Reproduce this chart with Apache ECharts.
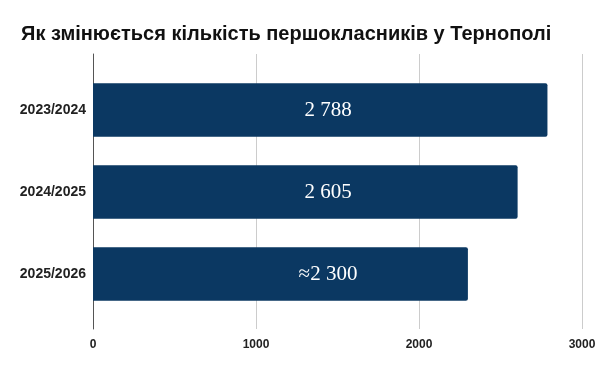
<!DOCTYPE html>
<html>
<head>
<meta charset="utf-8">
<script src="https://cdn.jsdelivr.net/npm/echarts@6/dist/echarts.min.js"></script>
<style>html,body{margin:0;padding:0;background:#fff;}#c{width:600px;height:371px;}</style>
</head>
<body>
<div id="c"></div>
<script>
var title = 'Як змінюється кількість першокласників у Тернополі';
var categories = ['2023/2024', '2024/2025', '2025/2026'];
var values = [2788, 2605, 2300];
var valueLabels = ['2 788', '2 605', '≈2 300'];
var axisMin = 0, axisMax = 3000, axisStep = 1000;

var chart = echarts.init(document.getElementById('c'), null, {renderer: 'canvas'});
chart.setOption({
  animation: false,
  backgroundColor: '#fff',
  title: {
    text: title, left: 16, top: 19,
    textStyle: {fontFamily: 'Liberation Sans, Arial, sans-serif', fontWeight: 'bold', fontSize: 20, color: '#111'}
  },
  grid: [
    {left: 93, right: 18, top: 54, bottom: 42},
    {left: 93, right: 18, top: 69, bottom: 56}
  ],
  xAxis: [
    {
      gridIndex: 0, type: 'value', min: axisMin, max: axisMax, interval: axisStep,
      axisLine: {show: false}, axisTick: {show: false},
      splitLine: {show: true, lineStyle: {color: '#cccccc', width: 1}},
      axisLabel: {
        margin: 10, formatter: function (v) { return String(v); },
        fontFamily: 'Liberation Sans, Arial, sans-serif', fontWeight: 'bold', fontSize: 12, color: '#222'
      }
    },
    {gridIndex: 1, type: 'value', min: axisMin, max: axisMax, show: false}
  ],
  yAxis: [
    {
      gridIndex: 0, type: 'value', min: 0, max: 1,
      axisLine: {show: true, onZero: false, lineStyle: {color: '#555', width: 1}},
      axisTick: {show: false}, axisLabel: {show: false}, splitLine: {show: false}
    },
    {
      gridIndex: 1, type: 'category', data: categories, inverse: true,
      axisLine: {show: false}, axisTick: {show: false}, splitLine: {show: false},
      axisLabel: {margin: 7, fontFamily: 'Liberation Sans, Arial, sans-serif', fontWeight: 'bold', fontSize: 14, color: '#222'}
    }
  ],
  series: [{
    type: 'bar', xAxisIndex: 1, yAxisIndex: 1,
    data: values,
    barWidth: '65%',
    itemStyle: {color: '#0b3862', borderRadius: [0, 2, 2, 0]},
    label: {
      show: true, position: [235, '50%'], align: 'center', verticalAlign: 'middle',
      formatter: function (p) { return valueLabels[p.dataIndex]; },
      fontFamily: 'Liberation Serif, Times New Roman, serif', fontSize: 21, color: '#fff'
    }
  }]
});
</script>
</body>
</html>
